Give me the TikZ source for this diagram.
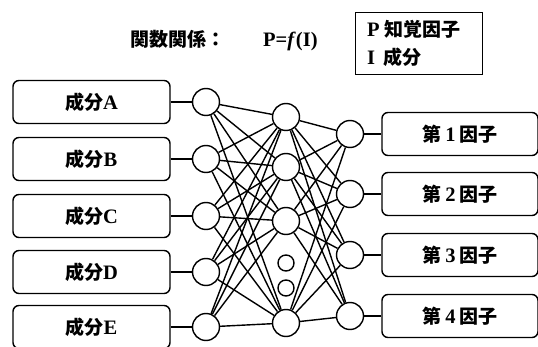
\documentclass[tikz,border=0pt]{standalone}
\usepackage{fontspec}
\setmainfont{Liberation Serif}[Scale=1.08]
\newfontfamily\cjk{Noto Sans CJK JP}
\begin{document}
\begin{tikzpicture}[x=1pt,y=-1pt,
  lw/.style={line width=1.4pt},
  lab/.style={font=\fontsize{19}{21}\selectfont\bfseries},
  inbox/.style={draw,lw,lab,rounded corners=6pt,minimum width=157pt,minimum height=43pt,inner sep=0pt},
  outbox/.style={draw,lw,lab,rounded corners=6pt,minimum width=156pt,minimum height=43pt,inner sep=0pt},
  neuron/.style={draw,lw,circle,minimum size=27pt,inner sep=0pt},
  smallneuron/.style={draw,lw,circle,minimum size=16pt,inner sep=0pt},
  link/.style={lw}]
\useasboundingbox (0,0) rectangle (538,347);
\clip (0,0) rectangle (538,347);
% title
\node[lab,anchor=west,inner sep=0pt] (title) at (130,41) {{\cjk 関数関係：}\hspace{38pt}P=\textit{f}(I)};
\node[draw,lw,anchor=north west,minimum width=127pt,minimum height=62pt,inner sep=0pt] (legend) at (355,12) {};
\node[lab,anchor=west,inner sep=0pt] (legP) at (367,29) {P {\cjk 知覚因子}};
\node[lab,anchor=west,inner sep=0pt] (legI) at (367,57) {I\hspace{8pt}{\cjk 成分}};
% input boxes
\foreach \n/\y/\l in {1/102/A,2/159/B,3/216/C,4/272/D,5/327/E}{
  \node[inbox] (in\n) at (91.5,\y) {{\cjk 成分}\l};
  \node[neuron] (i\n) at (206,\y) {};
  \draw[link] (in\n.east) -- (i\n.west);
}
% hidden
\node[neuron] (h1) at (286,117) {};
\node[neuron] (h2) at (286,167) {};
\node[neuron] (h3) at (286,221) {};
\node[neuron] (h4) at (286,323) {};
\node[smallneuron] (s1) at (286,263) {};
\node[smallneuron] (s2) at (286,288) {};
% outputs
\foreach \n/\y in {1/134,2/194,3/255,4/316}{
  \node[neuron] (o\n) at (350,\y) {};
  \node[outbox] (out\n) at (460,\y) {{\cjk 第}\hspace{4pt}\n\hspace{4pt}{\cjk 因子}};
  \draw[link] (o\n.east) -- (out\n.west);
}
\foreach \a in {1,...,5}{
  \foreach \b in {1,...,4}{
    \draw[link] (i\a) -- (h\b);
  }
}
\foreach \a in {1,...,4}{
  \foreach \b in {1,...,4}{
    \draw[link] (h\a) -- (o\b);
  }
}
\end{tikzpicture}
\end{document}
